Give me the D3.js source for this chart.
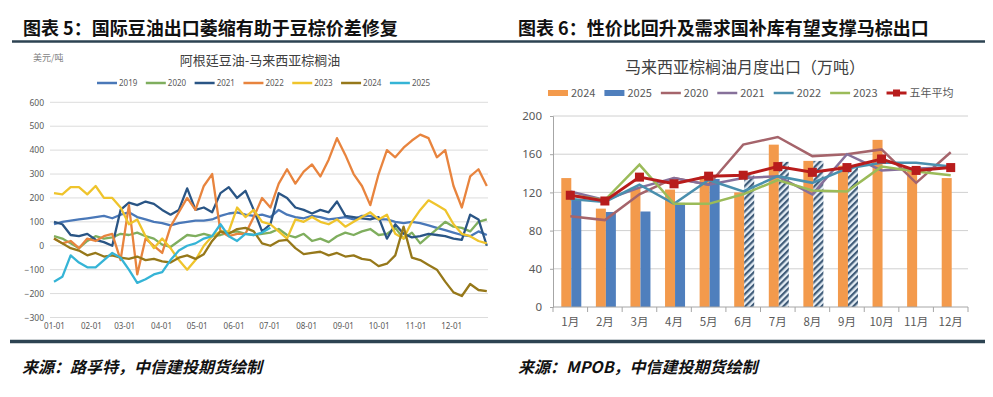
<!DOCTYPE html>
<html>
<head>
<meta charset="utf-8">
<script src="https://cdn.jsdelivr.net/npm/d3@7"></script>
<style>
  body { margin: 0; background: #fff; }
  text { font-family: "Noto Sans CJK SC", "Noto Sans", sans-serif; }
</style>
</head>
<body>
<script>
// ---- left chart: soy-palm spread, USD/t, weekly samples by day of year ----
var weekDays = [0, 7, 14, 21, 28, 35, 42, 49, 56, 63, 70, 77, 84, 91, 98, 105, 112,
  119, 126, 133, 140, 147, 154, 161, 168, 175, 182, 189, 196, 203, 210, 217, 224,
  231, 238, 245, 252, 259, 266, 273, 280, 287, 294, 301, 308, 315, 322, 329, 336,
  343, 350, 357, 364];
var monthStartDays = [0, 31, 59, 90, 120, 151, 181, 212, 243, 273, 304, 334];
var monthLabels = ["01-01", "02-01", "03-01", "04-01", "05-01", "06-01", "07-01",
  "08-01", "09-01", "10-01", "11-01", "12-01"];
var spreadTicks = [-300, -200, -100, 0, 100, 200, 300, 400, 500, 600];

var s2019 = [90, 100, 105, 110, 115, 120, 125, 115, 130, 140, 120, 110, 100, 95, 85,
  95, 100, 105, 105, 110, 125, 135, 140, 130, 125, 130, 120, 150, 130, 120, 115, 125,
  120, 110, 115, 120, 110, 125, 125, 110, 110, 100, 95, 100, 95, 85, 75, 65, 55, 45,
  40, 60, 45];
var s2020 = [40, 30, 10, -10, 20, 40, 30, 35, 50, 45, 55, 40, 30, 5, -5, 20, 45, 40,
  50, 40, 45, 55, 60, 50, 45, 50, 55, 70, 45, 35, 50, 20, 30, 15, 40, 55, 45, 60, 70,
  45, 50, 75, 30, 55, 10, 40, 70, 100, 80, 75, 60, 100, 110];
var s2021 = [100, 90, 45, 40, 50, 25, 15, 0, 150, 180, 170, 185, 175, 150, 130, 150,
  240, 150, 160, 140, 220, 245, 200, 230, 150, 60, 90, 220, 200, 160, 150, 135, 150,
  140, 185, 125, 120, 115, 110, 120, 30, 90, 50, 35, 40, 50, 45, 40, 30, 25, 130, 110, 0];
var s2022 = [30, 10, 20, -10, 30, 20, 40, 50, -60, 170, -120, 30, 0, -30, 80, 140, 200,
  150, 250, 300, 60, 40, 50, 50, 120, 200, 160, 260, 320, 260, 310, 340, 290, 360, 450,
  380, 300, 250, 170, 300, 400, 370, 410, 440, 465, 450, 370, 400, 250, 160, 290, 320, 250];
var s2023 = [220, 215, 245, 245, 215, 250, 200, 200, 160, 90, 110, 40, -10, 30, -10,
  -60, -100, -60, 0, 40, 60, 60, 160, 120, 150, 100, 90, 60, 30, 110, 100, 120, 100, 90,
  110, 80, 100, 120, 140, 110, 130, 50, 30, 100, 150, 190, 170, 150, 90, 50, 40, 20, 10];
var s2024 = [30, 10, -10, -20, -40, -30, -45, -40, -50, -55, -45, -60, -55, -65, -70,
  -50, -40, -55, -35, 20, 60, 50, 70, 75, 60, 10, 0, 20, 25, -10, -35, -30, -25, -40,
  -30, -45, -40, -55, -60, -85, -75, -40, 80, -50, -60, -80, -100, -150, -195, -210,
  -160, -185, -190];
var s2025 = [-150, -130, -40, -70, -90, -90, -60, -30, -50, -100, -155, -140, -120,
  -110, -60, -20, 0, 10, 30, 40, 90, 40, 20, 50, 45, 55, 75];

var leftNames = ["2019", "2020", "2021", "2022", "2023", "2024", "2025"];
var leftSeries = [s2019, s2020, s2021, s2022, s2023, s2024, s2025];
var leftColors = ["#4a78b8", "#7fae5e", "#2a5585", "#e8843e", "#efc42c", "#96781a", "#35b4d6"];

// ---- right chart: Malaysia palm oil monthly exports, 10k t ----
var months = ["1月", "2月", "3月", "4月", "5月", "6月", "7月", "8月", "9月", "10月", "11月", "12月"];
var exp2024 = [135, 103, 125, 123, 137, 120, 170, 153, 148, 175, 145, 135];
var exp2025 = [112, 99.5, 100, 109, 134];
var estMonths = ["6月", "7月", "8月", "9月"];
var est2025 = [138, 152, 153, 148];
var line2020 = [95, 91, 118, 135, 128, 170, 178, 158, 160, 165, 130, 162];
var line2021 = [121, 112, 125, 135, 128, 135, 137, 118, 160, 143, 145, 146];
var line2022 = [113, 110, 128, 108, 133, 121, 137, 130, 145, 151, 151, 147];
var line2023 = [117, 112, 149, 108, 108, 118, 133, 122, 121, 147, 142, 138];
var avg5 = [117, 111, 136, 129, 137, 138, 147, 141, 146, 155, 143, 146];
var exportTicks = [0, 40, 80, 120, 160, 200];

var svg = d3.select("body").append("svg")
  .attr("width", 993)
  .attr("height", 397);

// page furniture
svg.append("line").attr("x1", 12).attr("x2", 985).attr("y1", 41.5).attr("y2", 41.5)
  .attr("stroke", "#2d4352").attr("stroke-width", 2.5);
svg.append("line").attr("x1", 10).attr("x2", 985).attr("y1", 341.5).attr("y2", 341.5)
  .attr("stroke", "#2d4352").attr("stroke-width", 3.5);

svg.append("text").attr("x", 23).attr("y", 35)
  .attr("font-size", "18px").attr("font-weight", "bold").attr("fill", "#111")
  .text("图表 5：国际豆油出口萎缩有助于豆棕价差修复");
svg.append("text").attr("x", 518).attr("y", 35)
  .attr("font-size", "18px").attr("font-weight", "bold").attr("fill", "#111")
  .text("图表 6：性价比回升及需求国补库有望支撑马棕出口");

svg.append("text").attr("x", 22).attr("y", 373)
  .attr("font-size", "16px").attr("font-weight", "bold").attr("font-style", "italic")
  .attr("fill", "#111").text("来源：路孚特，中信建投期货绘制");
svg.append("text").attr("x", 518).attr("y", 373)
  .attr("font-size", "16px").attr("font-weight", "bold").attr("font-style", "italic")
  .attr("fill", "#111").text("来源：MPOB，中信建投期货绘制");

// ================= left chart =================
var xL = d3.scaleLinear().domain([0, 365]).range([54, 488]);
var yL = d3.scaleLinear().domain([-300, 600]).range([317.5, 102.3]);

var left = svg.append("g");

left.selectAll("line.grid")
  .data(spreadTicks)
  .enter()
  .append("line")
  .attr("class", "grid")
  .attr("x1", 50).attr("x2", 488)
  .attr("y1", function(d) { return yL(d); })
  .attr("y2", function(d) { return yL(d); })
  .attr("stroke", "#dcdcdc").attr("stroke-width", 1);

var yAxisL = left.append("g")
  .attr("transform", "translate(47,0)")
  .call(d3.axisLeft(yL).tickValues(spreadTicks).tickSize(0).tickPadding(3));
yAxisL.select(".domain").remove();
yAxisL.selectAll("text").attr("font-size", "8.5px").attr("fill", "#595959")
  .style("font-family", "'Noto Sans', sans-serif");

var xAxisL = left.append("g")
  .attr("transform", "translate(0,320)")
  .call(d3.axisBottom(xL).tickValues(monthStartDays).tickSize(0).tickPadding(3)
    .tickFormat(function(d, i) { return monthLabels[i]; }));
xAxisL.select(".domain").remove();
xAxisL.selectAll("text").attr("font-size", "8px").attr("fill", "#595959")
  .style("font-family", "'Noto Sans', sans-serif");

left.append("text").attr("x", 260).attr("y", 65).attr("text-anchor", "middle")
  .attr("font-size", "13px").attr("fill", "#404040").text("阿根廷豆油-马来西亚棕榈油");
left.append("text").attr("x", 33).attr("y", 61)
  .attr("font-size", "9px").attr("fill", "#7f7f7f").text("美元/吨");

var spreadLine = d3.line()
  .x(function(d, i) { return xL(weekDays[i]); })
  .y(function(d) { return yL(d); });

left.selectAll("path.series")
  .data(leftSeries)
  .enter()
  .append("path")
  .attr("class", "series")
  .attr("d", spreadLine)
  .attr("fill", "none")
  .attr("stroke", function(d, i) { return leftColors[i]; })
  .attr("stroke-width", 2.3)
  .attr("stroke-linejoin", "round");

// left legend
var legL = left.append("g").attr("transform", "translate(0,83)");
var curL = 97;
leftNames.forEach(function(name, i) {
  legL.append("line").attr("x1", curL).attr("x2", curL + 20)
    .attr("stroke", leftColors[i]).attr("stroke-width", 2.5);
  var t = legL.append("text").attr("x", curL + 22).attr("y", 3)
    .attr("font-size", "8px").attr("fill", "#595959")
    .style("font-family", "'Noto Sans', sans-serif").text(name);
  curL += 22 + t.node().getComputedTextLength() + 8.5;
});

// ================= right chart =================
var xR = d3.scaleBand().domain(months).range([553, 968]);
var yR = d3.scaleLinear().domain([0, 200]).range([307, 116]);
var bw = xR.bandwidth();

var right = svg.append("g");

var defs = svg.append("defs");
var hatch = defs.append("pattern")
  .attr("id", "hatch")
  .attr("patternUnits", "userSpaceOnUse")
  .attr("width", 4.5).attr("height", 4.5)
  .attr("patternTransform", "rotate(45)");
hatch.append("rect").attr("width", 4.5).attr("height", 4.5).attr("fill", "#e4edf5");
hatch.append("rect").attr("width", 2.2).attr("height", 4.5).attr("fill", "#3f5b78");

right.selectAll("line.grid")
  .data(exportTicks.slice(1))
  .enter()
  .append("line")
  .attr("class", "grid")
  .attr("x1", 553).attr("x2", 968)
  .attr("y1", function(d) { return yR(d); })
  .attr("y2", function(d) { return yR(d); })
  .attr("stroke", "#d0d0d0").attr("stroke-width", 1);

var yAxisR = right.append("g")
  .attr("transform", "translate(553,0)")
  .call(d3.axisLeft(yR).tickValues(exportTicks).tickSize(3).tickPadding(8));
yAxisR.select(".domain").attr("stroke", "#a6a6a6");
yAxisR.selectAll(".tick line").attr("stroke", "#a6a6a6");
yAxisR.selectAll("text").attr("font-size", "11.5px").attr("fill", "#595959")
  .style("font-family", "'Noto Sans', sans-serif");

// category bars
right.selectAll("rect.b2024")
  .data(exp2024)
  .enter()
  .append("rect")
  .attr("class", "b2024")
  .attr("x", function(d, i) { return xR(months[i]) + bw / 2 - 9; })
  .attr("y", function(d) { return yR(d); })
  .attr("width", 10)
  .attr("height", function(d) { return yR(0) - yR(d); })
  .attr("fill", "#f39a4c");

right.selectAll("rect.b2025")
  .data(exp2025)
  .enter()
  .append("rect")
  .attr("class", "b2025")
  .attr("x", function(d, i) { return xR(months[i]) + bw / 2 + 1; })
  .attr("y", function(d) { return yR(d); })
  .attr("width", 10)
  .attr("height", function(d) { return yR(0) - yR(d); })
  .attr("fill", "#4f7fbd");

right.selectAll("rect.est")
  .data(est2025)
  .enter()
  .append("rect")
  .attr("class", "est")
  .attr("x", function(d, i) { return xR(estMonths[i]) + bw / 2 + 1; })
  .attr("y", function(d) { return yR(d); })
  .attr("width", 10)
  .attr("height", function(d) { return yR(0) - yR(d); })
  .attr("fill", "url(#hatch)");

// x axis
right.append("line").attr("x1", 553).attr("x2", 968).attr("y1", 307).attr("y2", 307)
  .attr("stroke", "#a6a6a6");
right.selectAll("line.xtick")
  .data(months.concat(["end"]))
  .enter()
  .append("line")
  .attr("class", "xtick")
  .attr("x1", function(d, i) { return 553 + i * bw; })
  .attr("x2", function(d, i) { return 553 + i * bw; })
  .attr("y1", 307).attr("y2", 312)
  .attr("stroke", "#a6a6a6");
right.selectAll("text.xlab")
  .data(months)
  .enter()
  .append("text")
  .attr("class", "xlab")
  .attr("x", function(d) { return xR(d) + bw / 2; })
  .attr("y", 326)
  .attr("text-anchor", "middle")
  .attr("font-size", "11.5px").attr("fill", "#595959")
  .text(function(d) { return d; });

// lines
var expLine = d3.line()
  .x(function(d, i) { return xR(months[i]) + bw / 2; })
  .y(function(d) { return yR(d); });

var rightLines = [line2020, line2021, line2022, line2023];
var rightLineColors = ["#a5646b", "#86709a", "#4a8fae", "#9bbb59"];

right.selectAll("path.yr")
  .data(rightLines)
  .enter()
  .append("path")
  .attr("class", "yr")
  .attr("d", expLine)
  .attr("fill", "none")
  .attr("stroke", function(d, i) { return rightLineColors[i]; })
  .attr("stroke-width", 2.5);

right.append("path")
  .datum(avg5)
  .attr("d", expLine)
  .attr("fill", "none")
  .attr("stroke", "#b81c1c")
  .attr("stroke-width", 3);

right.selectAll("rect.mk")
  .data(avg5)
  .enter()
  .append("rect")
  .attr("class", "mk")
  .attr("x", function(d, i) { return xR(months[i]) + bw / 2 - 4.5; })
  .attr("y", function(d) { return yR(d) - 4.5; })
  .attr("width", 9).attr("height", 9)
  .attr("fill", "#b81c1c");

right.append("text").attr("x", 745).attr("y", 73).attr("text-anchor", "middle")
  .attr("font-size", "16px").attr("fill", "#404040")
  .text("马来西亚棕榈油月度出口（万吨）");

// right legend
var legItems = [
  { name: "2024", kind: "rect", color: "#f39a4c" },
  { name: "2025", kind: "rect", color: "#4f7fbd" },
  { name: "2020", kind: "line", color: rightLineColors[0] },
  { name: "2021", kind: "line", color: rightLineColors[1] },
  { name: "2022", kind: "line", color: rightLineColors[2] },
  { name: "2023", kind: "line", color: rightLineColors[3] },
  { name: "五年平均", kind: "marker", color: "#b81c1c" }
];
var legR = right.append("g").attr("transform", "translate(0,93)");
var curR = 548;
legItems.forEach(function(it) {
  if (it.kind === "rect") {
    legR.append("rect").attr("x", curR).attr("y", -3).attr("width", 20).attr("height", 6)
      .attr("fill", it.color);
  } else {
    legR.append("line").attr("x1", curR).attr("x2", curR + 20)
      .attr("stroke", it.color).attr("stroke-width", it.kind === "marker" ? 3 : 2.5);
    if (it.kind === "marker") {
      legR.append("rect").attr("x", curR + 6.5).attr("y", -3.5).attr("width", 7).attr("height", 7)
        .attr("fill", it.color);
    }
  }
  var t = legR.append("text").attr("x", curR + 23).attr("y", 4)
    .attr("font-size", "11px").attr("fill", "#595959").text(it.name);
  curR += 23 + t.node().getComputedTextLength() + 9;
});
</script>
</body>
</html>
